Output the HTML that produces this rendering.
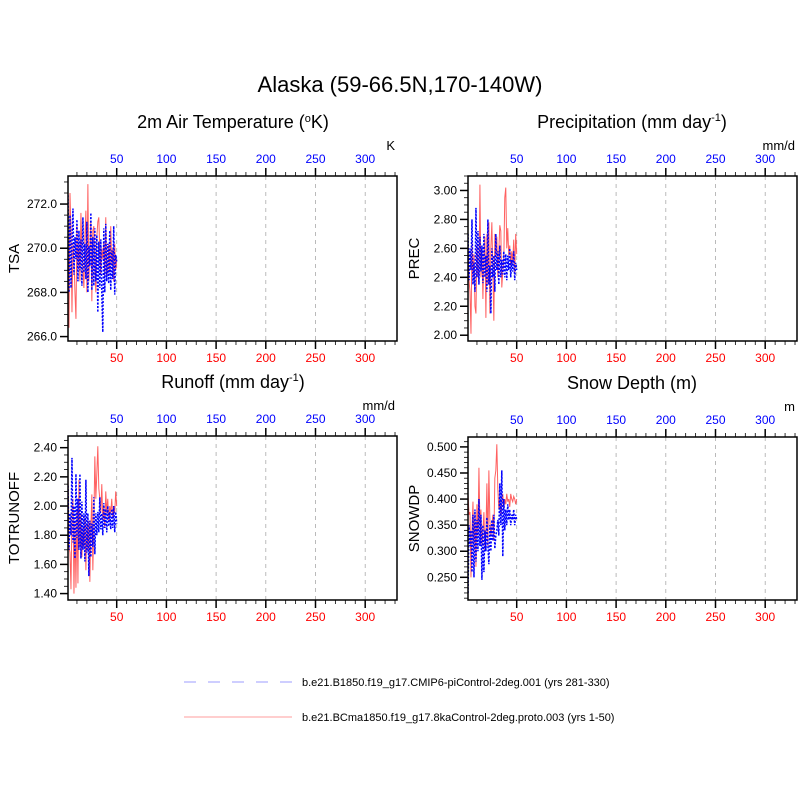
<!DOCTYPE html>
<html><head><meta charset="utf-8"><style>
html,body{margin:0;padding:0;background:#fff;}
svg{display:block;font-family:"Liberation Sans",Arial,sans-serif;}
</style></head><body>
<svg id="chart" width="800" height="800" viewBox="0 0 800 800">
<text x="400" y="92" font-size="22" text-anchor="middle">Alaska (59-66.5N,170-140W)</text>
<g>
<line x1="184" y1="682" x2="292" y2="682" stroke="#b0b0ff" stroke-width="1.3" stroke-dasharray="12,12"/>
<text x="302" y="686" font-size="11">b.e21.B1850.f19_g17.CMIP6-piControl-2deg.001 (yrs 281-330)</text>
<line x1="184" y1="717" x2="292" y2="717" stroke="#ffb0b0" stroke-width="1.3"/>
<text x="302" y="721" font-size="11">b.e21.BCma1850.f19_g17.8kaControl-2deg.proto.003 (yrs 1-50)</text>
</g>
</svg>
<script>
const years = Array.from({length:50},(_,i)=>i+1);
const xTicks = [50,100,150,200,250,300];
const tsaRed = [270.5,266.4,272.5,270.8,267.1,270.2,269.5,268.0,266.8,271.0,269.0,270.3,268.5,271.6,270.0,269.0,268.2,270.5,271.7,268.0,272.9,268.5,270.0,271.2,267.6,270.8,271.0,269.2,268.0,270.5,271.2,271.4,269.8,268.8,270.0,269.5,270.3,268.7,271.4,268.7,269.0,270.2,268.9,271.0,269.3,270.0,268.5,270.2,269.0,269.5];
const tsaBlue = [272.4,268.0,271.5,268.2,270.3,271.8,268.8,270.5,269.5,271.3,268.5,270.8,269.0,270.4,268.3,271.4,268.9,270.2,268.6,271.2,268.0,270.1,269.2,271.6,268.1,270.5,268.3,270.9,268.5,270.6,267.1,270.3,268.2,270.4,267.9,266.2,270.9,268.0,271.1,268.5,270.2,268.4,270.8,268.1,269.9,268.6,271.0,267.9,269.7,269.4];
const precRed = [2.62,2.38,2.30,2.01,2.66,2.40,2.56,2.20,2.15,2.62,2.44,2.35,3.04,2.40,2.60,2.25,2.55,2.68,2.12,2.70,2.35,2.78,2.15,2.60,2.78,2.45,2.10,2.70,2.55,2.68,2.40,2.58,2.76,2.72,2.33,2.44,2.52,2.95,3.02,2.60,2.74,2.55,2.62,2.48,2.58,2.50,2.66,2.42,2.70,2.56];
const precBlue = [2.70,2.38,2.60,2.45,2.80,2.35,2.50,2.30,2.88,2.40,2.72,2.35,2.68,2.44,2.62,2.36,2.70,2.40,2.55,2.30,2.80,2.35,2.48,2.15,2.60,2.40,2.55,2.30,2.70,2.45,2.58,2.35,2.62,2.40,2.52,2.42,2.58,2.40,2.56,2.38,2.55,2.45,2.60,2.40,2.52,2.44,2.58,2.38,2.50,2.45];
const roRed = [2.21,1.72,1.68,1.43,1.95,2.05,1.40,1.90,1.44,1.98,1.47,2.18,1.72,1.95,1.65,1.85,1.72,1.92,1.56,1.88,1.70,1.90,1.48,1.85,2.08,1.56,1.88,2.34,2.05,2.22,2.41,2.12,2.05,1.95,2.15,1.90,2.00,1.85,2.10,1.95,2.05,1.90,2.00,1.95,2.05,1.92,2.00,1.95,2.10,2.00];
const roBlue = [2.14,1.70,1.95,1.80,2.33,1.75,2.00,1.64,2.22,1.78,2.05,1.70,2.22,1.64,2.03,1.70,1.95,1.62,2.18,1.68,1.95,1.52,1.90,1.65,1.88,1.72,2.06,1.67,1.95,1.80,1.96,1.82,2.06,1.84,1.95,1.80,2.02,1.85,1.98,1.82,2.00,1.86,1.96,1.84,1.98,1.85,2.00,1.82,1.96,1.88];
const snRed = [0.410,0.370,0.375,0.250,0.340,0.395,0.300,0.375,0.270,0.390,0.330,0.460,0.350,0.380,0.310,0.340,0.375,0.300,0.330,0.430,0.310,0.455,0.360,0.330,0.345,0.370,0.320,0.440,0.455,0.505,0.420,0.380,0.400,0.370,0.390,0.410,0.380,0.400,0.390,0.410,0.395,0.400,0.385,0.410,0.400,0.395,0.405,0.400,0.390,0.400];
const snBlue = [0.220,0.350,0.310,0.340,0.260,0.370,0.250,0.380,0.280,0.360,0.300,0.400,0.310,0.370,0.245,0.350,0.260,0.340,0.300,0.365,0.310,0.275,0.350,0.300,0.360,0.320,0.370,0.305,0.330,0.340,0.360,0.330,0.430,0.350,0.455,0.290,0.400,0.340,0.380,0.350,0.390,0.360,0.380,0.350,0.370,0.360,0.380,0.350,0.370,0.360];

const NS='http://www.w3.org/2000/svg';
const svg=document.getElementById('chart');
function mk(tag,attrs,parent){const e=document.createElementNS(NS,tag);for(const k in attrs)e.setAttribute(k,attrs[k]);(parent||svg).appendChild(e);return e;}

function panel(p,red,blue){
  const g=mk('g',{});
  
  
  const L=p.L,R=p.R,T=p.T,B=p.B;
  const xs=v=>L+(v-1)*(R-L)/331;
  const ys=v=>B-(v-p.ymin)*(B-T)/(p.ymax-p.ymin);
  const t=mk('text',{x:p.tx,y:T-48,'font-size':18,'text-anchor':'middle'},g);
  t.innerHTML=p.title;
  
  
  const u=mk('text',{x:R-2,y:T-26,'font-size':13,'text-anchor':'end'},g);
  u.textContent=p.units;
  
  
  for(let v=10;v<=330;v+=10){
    const x=xs(v);const maj=v%50===0;
    mk('line',{x1:x,y1:T,x2:x,y2:T-(maj?8:4),stroke:'#000','stroke-width':maj?1.5:0.8},g);
    mk('line',{x1:x,y1:B,x2:x,y2:B+(maj?8:4),stroke:'#000','stroke-width':maj?1.5:0.8},g);
  }
  xTicks.forEach(v=>{
    const x=xs(v);
    const gl=mk('line',{x1:x,y1:T,x2:x,y2:B,stroke:'#aaa','stroke-width':0.8,'stroke-dasharray':'4,4'},g);
    
    
    const a=mk('text',{x:x,y:T-13,'font-size':12,fill:'#0000ff','text-anchor':'middle'},g);a.textContent=v;
    
    
    const b=mk('text',{x:x,y:B+21,'font-size':12,fill:'#ff0000','text-anchor':'middle'},g);b.textContent=v;
    
    
  });
  const minor=p.ystep/p.nminor;
  for(let k=Math.ceil(p.ymin/minor-1e-6);k*minor<=p.ymax+1e-9;k++){
    const v=k*minor;const y=ys(v);const maj=Math.abs(v/p.ystep-Math.round(v/p.ystep))<1e-6;
    mk('line',{x1:L,y1:y,x2:L-(maj?8:4),y2:y,stroke:'#000','stroke-width':maj?1.5:0.8},g);
    if(maj){const l=mk('text',{x:L-11,y:y+4,'font-size':12,'text-anchor':'end'},g);l.textContent=v.toFixed(p.dec);
      
      }
  }
  const yl=mk('text',{x:0,y:0,'font-size':15,'text-anchor':'middle',transform:`translate(${L-49},${(T+B)/2}) rotate(-90)`},g);
  yl.textContent=p.ylabel;
  
  
  const clip='c'+p.name;
  const cp=mk('clipPath',{id:clip},g);mk('rect',{x:L,y:T,width:R-L,height:B-T},cp);
  const rl=mk('polyline',{points:red.map((v,i)=>xs(years[i])+','+ys(v)).join(' '),fill:'none',stroke:'#ff6060','stroke-width':1,'clip-path':`url(#${clip})`},g);
  
  
  const bl=mk('polyline',{points:blue.map((v,i)=>xs(years[i])+','+ys(v)).join(' '),fill:'none',stroke:'#0000ff','stroke-width':1.5,'stroke-dasharray':'2,1.5','clip-path':`url(#${clip})`},g);
  
  
  const box=mk('rect',{x:L,y:T,width:R-L,height:B-T,fill:'none',stroke:'#000','stroke-width':1.5},g);
  
  
}
panel({name:'tsa',L:68,R:397,T:176,B:341,ymin:265.8,ymax:273.27,ystep:2,nminor:4,dec:1,ylabel:'TSA',units:'K',tx:233,title:'2m Air Temperature (<tspan dy="-6" font-size="11">o</tspan><tspan dy="6">K)</tspan>'},tsaRed,tsaBlue);
panel({name:'prec',L:468,R:797,T:176,B:341,ymin:1.96,ymax:3.1,ystep:0.2,nminor:4,dec:2,ylabel:'PREC',units:'mm/d',tx:632,title:'Precipitation (mm day<tspan dy="-7" font-size="11">-1</tspan><tspan dy="7">)</tspan>'},precRed,precBlue);
panel({name:'runoff',L:68,R:397,T:436,B:600,ymin:1.356,ymax:2.48,ystep:0.2,nminor:4,dec:2,ylabel:'TOTRUNOFF',units:'mm/d',tx:233,title:'Runoff (mm day<tspan dy="-7" font-size="11">-1</tspan><tspan dy="7">)</tspan>'},roRed,roBlue);
panel({name:'snowdp',L:468,R:797,T:437,B:600,ymin:0.2065,ymax:0.519,ystep:0.05,nminor:5,dec:3,ylabel:'SNOWDP',units:'m',tx:632,title:'Snow Depth (m)'},snRed,snBlue);
</script>
</body></html>
